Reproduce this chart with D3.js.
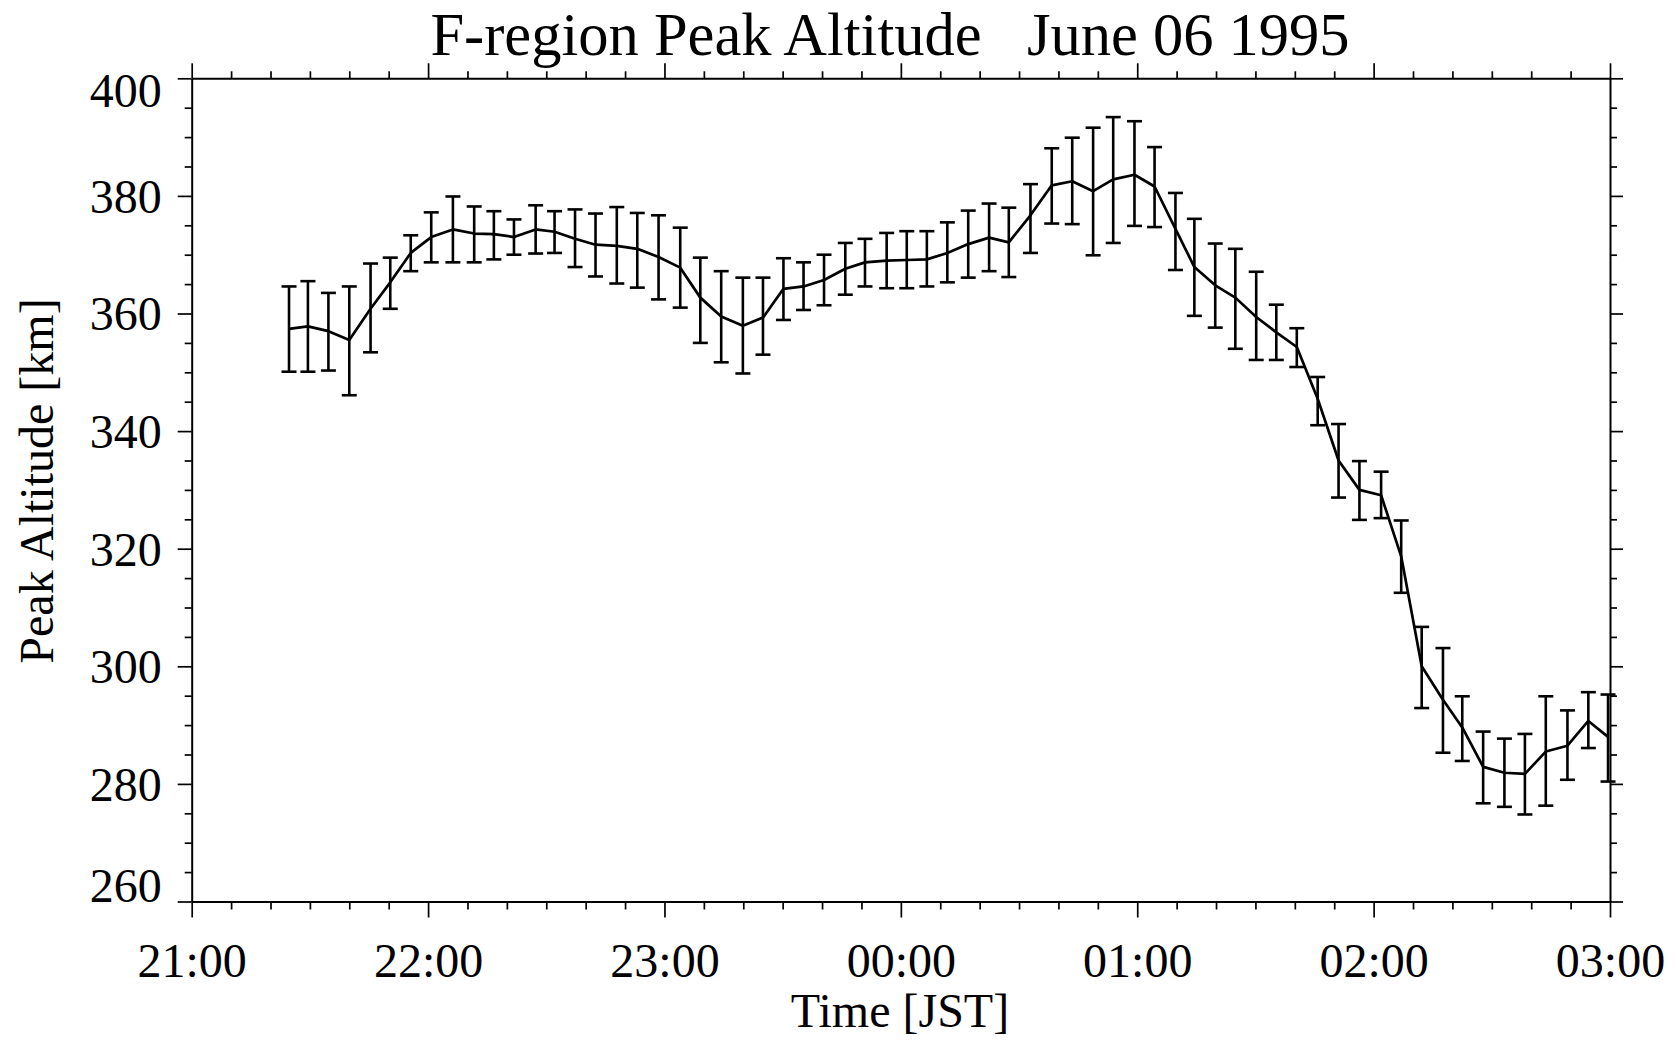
<!DOCTYPE html>
<html>
<head>
<meta charset="utf-8">
<script src="https://cdn.jsdelivr.net/npm/d3@7/dist/d3.min.js"></script>
<style>
  html, body { margin: 0; padding: 0; background: #fff; }
  svg text { font-family: "Liberation Serif", "Times New Roman", serif; fill: #000; }
</style>
</head>
<body>
<svg id="chart" width="1677" height="1040"></svg>
<script>
// Time of each sample, minutes after 21:00 JST
const timeMin = [24.7, 29.5, 34.7, 40.0, 45.4, 50.4, 55.6, 60.8, 66.3, 71.7,
  76.7, 81.8, 87.3, 92.1, 97.3, 102.5, 107.9, 113.1, 118.5, 124.0,
  129.1, 134.4, 139.9, 145.0, 150.2, 155.3, 160.5, 165.9, 170.9, 176.4,
  181.5, 186.6, 191.8, 197.1, 202.4, 207.4, 212.9, 218.3, 223.5, 228.8,
  233.9, 239.3, 244.4, 249.7, 254.5, 259.8, 264.9, 270.2, 275.3, 280.5,
  285.8, 291.1, 296.4, 301.9, 307.0, 312.2, 317.6, 322.5, 327.8, 333.2,
  338.4, 343.7, 349.2, 354.5, 359.5];
// Peak altitude [km]
const altitude = [357.4, 357.8, 357.0, 355.5, 360.8, 365.3, 370.3, 373.0, 374.3, 373.6,
  373.5, 373.0, 374.3, 373.9, 372.7, 371.7, 371.5, 371.0, 369.6, 367.8,
  362.7, 359.5, 357.9, 359.3, 364.2, 364.6, 365.7, 367.6, 368.7, 369.0,
  369.1, 369.2, 370.3, 371.8, 372.9, 372.1, 376.7, 381.8, 382.5, 380.8,
  382.8, 383.6, 381.6, 374.4, 367.9, 364.8, 362.7, 359.4, 356.8, 354.3,
  345.5, 335.0, 330.0, 329.1, 318.7, 300.0, 294.3, 289.6, 282.9, 281.9,
  281.7, 285.5, 286.5, 290.7, 288.0];
// Error bar upper ends [km]
const errUpper = [364.6, 365.5, 363.5, 364.6, 368.5, 369.5, 373.3, 377.2, 379.9, 378.2,
  377.4, 376.0, 378.4, 377.4, 377.7, 377.0, 378.1, 377.1, 376.7, 374.6,
  369.5, 367.2, 366.1, 366.1, 369.4, 368.7, 370.0, 372.0, 372.7, 373.7,
  374.0, 374.0, 375.5, 377.5, 378.7, 378.0, 382.0, 388.1, 389.9, 391.6,
  393.4, 392.7, 388.3, 380.5, 376.1, 371.9, 371.0, 367.1, 361.5, 357.5,
  349.2, 341.2, 334.9, 333.1, 324.8, 306.7, 303.1, 294.9, 288.9, 287.7,
  288.5, 294.9, 292.5, 295.6, 295.2];
// Error bar lower ends [km]
const errLower = [350.1, 350.1, 350.3, 346.1, 353.4, 360.8, 367.2, 368.7, 368.7, 368.7,
  369.2, 370.0, 370.2, 370.3, 367.9, 366.3, 365.1, 364.4, 362.4, 361.0,
  355.0, 351.7, 349.8, 353.0, 358.9, 360.6, 361.4, 363.2, 364.6, 364.3,
  364.3, 364.6, 365.3, 366.1, 367.2, 366.2, 370.3, 375.3, 375.2, 369.9,
  372.0, 374.9, 374.7, 367.4, 359.6, 357.6, 354.0, 352.1, 352.1, 350.9,
  341.0, 328.7, 324.9, 325.2, 312.5, 292.9, 285.3, 283.9, 276.7, 276.1,
  274.8, 276.3, 280.7, 286.1, 280.4];

const xTickValues = [0, 60, 120, 180, 240, 300, 360];
const xTickLabels = ["21:00", "22:00", "23:00", "00:00", "01:00", "02:00", "03:00"];
const yTickValues = [260, 280, 300, 320, 340, 360, 380, 400];

const titleText = "F-region Peak Altitude   June 06 1995";
const xLabel = "Time [JST]";
const yLabel = "Peak Altitude [km]";

const data = timeMin.map((t, i) => ({ t, v: altitude[i], hi: errUpper[i], lo: errLower[i] }));

const svg = d3.select("#chart");
const L = 191.7, R = 1610, T = 78.3, B = 901.5;

const x = d3.scaleLinear().domain([0, 360]).range([L, R]);
const y = d3.scaleLinear().domain([260, 400]).range([B, T]);

const xMinor = d3.range(0, 361, 10).filter(v => v % 60 !== 0);
const yMinor = d3.range(260, 401, 5).filter(v => v % 20 !== 0);

function styleAxis(g) {
  g.selectAll("path.domain").attr("stroke", "#000").attr("stroke-width", 2);
  g.selectAll(".tick line").attr("stroke", "#000").attr("stroke-width", 1.7);
}

// Bottom axis
svg.append("g").attr("transform", `translate(0,${B})`)
  .call(d3.axisBottom(x).tickValues(xMinor).tickSize(8).tickFormat(""))
  .call(styleAxis).call(g => g.select(".domain").remove());
const xb = svg.append("g").attr("transform", `translate(0,${B})`)
  .call(d3.axisBottom(x).tickValues(xTickValues).tickSize(16).tickSizeOuter(0)
    .tickFormat((d, i) => xTickLabels[i]))
  .call(styleAxis);
xb.selectAll(".tick text").attr("y", 75.5).attr("dy", 0)
  .style("font-size", "48px").style("font-family", '"Liberation Serif", "Times New Roman", serif');

// Top axis
svg.append("g").attr("transform", `translate(0,${T})`)
  .call(d3.axisTop(x).tickValues(xMinor).tickSize(7).tickFormat(""))
  .call(styleAxis).call(g => g.select(".domain").remove());
svg.append("g").attr("transform", `translate(0,${T})`)
  .call(d3.axisTop(x).tickValues(xTickValues).tickSize(15).tickSizeOuter(0).tickFormat(""))
  .call(styleAxis);

// Left axis
svg.append("g").attr("transform", `translate(${L},0)`)
  .call(d3.axisLeft(y).tickValues(yMinor).tickSize(7).tickFormat(""))
  .call(styleAxis).call(g => g.select(".domain").remove());
const yl = svg.append("g").attr("transform", `translate(${L},0)`)
  .call(d3.axisLeft(y).tickValues(yTickValues).tickSize(14).tickSizeOuter(0).tickPadding(16)
    .tickFormat(d3.format("d")))
  .call(styleAxis);
yl.selectAll(".tick text")
  .style("font-size", "48px").style("font-family", '"Liberation Serif", "Times New Roman", serif')
  .attr("dy", d => d === 400 ? "0.58em" : (d === 260 ? "0em" : "0.34em"));

// Right axis
svg.append("g").attr("transform", `translate(${R},0)`)
  .call(d3.axisRight(y).tickValues(yMinor).tickSize(7).tickFormat(""))
  .call(styleAxis).call(g => g.select(".domain").remove());
svg.append("g").attr("transform", `translate(${R},0)`)
  .call(d3.axisRight(y).tickValues(yTickValues).tickSize(13).tickSizeOuter(0).tickFormat(""))
  .call(styleAxis);

// Error bars
const eb = svg.append("g").attr("stroke", "#000").attr("stroke-width", 2.6).attr("fill", "none");
const cap = 7.5;
eb.selectAll("line.v").data(data).join("line").attr("class", "v")
  .attr("x1", d => x(d.t)).attr("x2", d => x(d.t))
  .attr("y1", d => y(d.hi)).attr("y2", d => y(d.lo));
eb.selectAll("line.top").data(data).join("line").attr("class", "top")
  .attr("x1", d => x(d.t) - cap).attr("x2", d => x(d.t) + cap)
  .attr("y1", d => y(d.hi)).attr("y2", d => y(d.hi));
eb.selectAll("line.bot").data(data).join("line").attr("class", "bot")
  .attr("x1", d => x(d.t) - cap).attr("x2", d => x(d.t) + cap)
  .attr("y1", d => y(d.lo)).attr("y2", d => y(d.lo));

// Line
svg.append("path").datum(data)
  .attr("fill", "none").attr("stroke", "#000").attr("stroke-width", 2.7)
  .attr("stroke-linejoin", "round")
  .attr("d", d3.line().x(d => x(d.t)).y(d => y(d.v)));

// Title and axis labels
svg.append("text").attr("x", 890).attr("y", 55).attr("text-anchor", "middle")
  .style("font-size", "60.5px").style("white-space", "pre").text(titleText);
svg.append("text").attr("x", 900).attr("y", 1027).attr("text-anchor", "middle")
  .style("font-size", "48px").text(xLabel);
svg.append("text").attr("transform", "translate(53,481) rotate(-90)").attr("text-anchor", "middle")
  .style("font-size", "48px").text(yLabel);
</script>
</body>
</html>
